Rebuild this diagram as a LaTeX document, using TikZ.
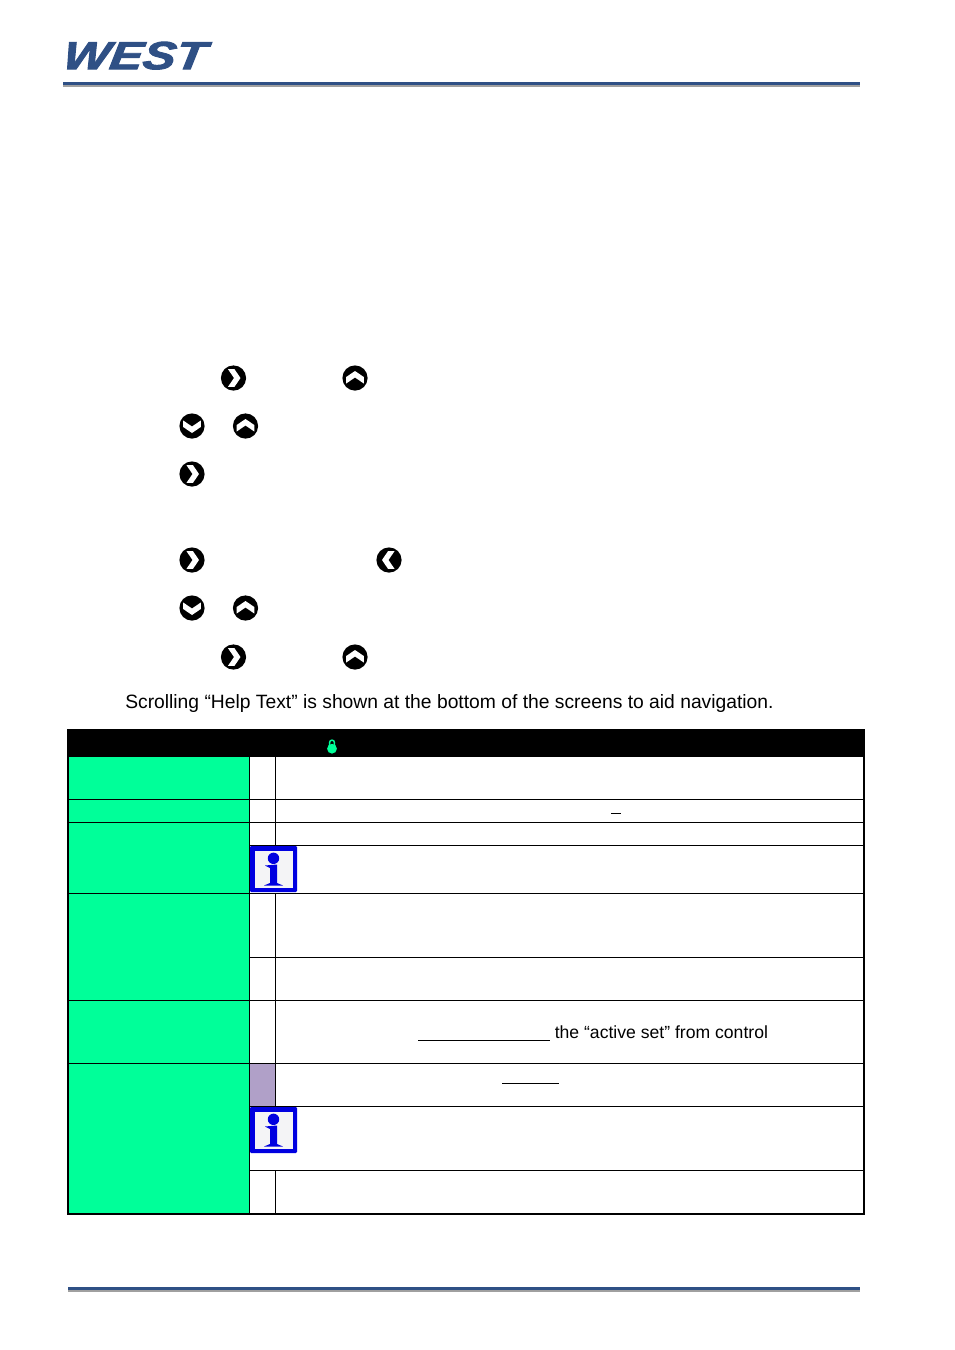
\documentclass[tikz,border=0pt]{standalone}
\usepackage{fontspec}
\setmainfont{Liberation Sans}
\newfontfamily\logofont[BoldItalicFeatures={FakeBold=2.2, FakeSlant=0.12}]{Liberation Sans}
\definecolor{westblue}{HTML}{2F5085}
\definecolor{rulegray}{HTML}{A0A0A0}
\definecolor{rowgreen}{HTML}{00FF99}
\definecolor{cellpurple}{HTML}{B0A0C8}
\definecolor{infoblue}{HTML}{0000E0}
\definecolor{infopaper}{HTML}{F4F4F6}
\tikzset{
	cellline/.style={black, line width=0.72pt},
	bodytext/.style={inner sep=0pt, anchor=base west, font=\fontsize{14.46}{17}\selectfont},
	celltext/.style={inner sep=0pt, anchor=base west, font=\fontsize{13.2}{16}\selectfont},
	infomark/.pic={
		\fill[infoblue, rounded corners=0.8pt] (0, 0) rectangle (47, 46);
		\fill[infopaper] (4.5, 5) rectangle (43, 41.5);
		\fill[infoblue] (23.5, 12.3) circle [radius=5.7];
		\fill[infoblue] (15, 19.5) -- (27, 18.5) -- (27, 37) -- (33, 39.5) -- (14, 39.5) -- (20, 37) -- (20, 22) -- cycle;
	},
}
\begin{document}
\begin{tikzpicture}[x=0.75pt, y=-0.75pt]
	\useasboundingbox (0, 0) rectangle (954, 1350);
	\node[inner sep=0pt, anchor=north west, text=westblue] (logo) at (61.5, 41.5) {\resizebox{107pt}{20.5pt}{\logofont\bfseries\itshape WEST}};
	\fill[westblue] (63, 82) rectangle (860, 85);
	\fill[rulegray] (63, 85) rectangle (860, 87);
	\foreach \x/\y/\a in {233.5/378/0, 355/378/90, 192/426/-90, 245.5/426/90, 192/474/0, 192/560/0, 389/560/180, 192/608/-90, 245.5/608/90, 233.5/657/0, 355/657/90} {
		\begin{scope}[shift={(\x, \y)}, rotate=\a]
			\fill[black] (0, 0) circle [radius=12.6];
			\fill[white] (-5.5, -8.8) -- (1, -8.8) -- (7, 0) -- (1, 8.8) -- (-5.5, 8.8) -- (0.5, 0) -- cycle;
		\end{scope}
	}
	\node[bodytext] (scrollhelp) at (125, 708) {Scrolling “Help Text” is shown at the bottom of the screens to aid navigation.};
	\fill[black] (67, 729) rectangle (865, 757);
	\fill[rowgreen] (69, 757) rectangle (249, 1214);
	\fill[cellpurple] (249, 1063) rectangle (275, 1106);
	\draw[rowgreen, line width=1.1pt] (329.6, 749) -- (329.6, 742.5) arc [start angle=180, end angle=360, radius=2.4] -- (334.4, 749);
	\fill[rowgreen] (332, 748.7) circle [radius=4.9];
	\foreach \y in {799, 822, 893, 1000, 1063} {
		\draw[cellline] (68, \y) -- (863, \y);
	}
	\foreach \y in {845, 957, 1106, 1170} {
		\draw[cellline] (249, \y) -- (863, \y);
	}
	\draw[cellline] (249.3, 757) -- (249.3, 1214);
	\foreach \a/\b in {757/845, 893/1063, 1063/1106, 1170/1214} {
		\draw[cellline] (275.3, \a) -- (275.3, \b);
	}
	\draw[black, line width=1.7pt] (68, 757) -- (68, 1214) -- (863.7, 1214) -- (863.7, 757);
	\pic at (250, 846) {infomark};
	\pic at (250, 1107) {infomark};
	\draw[cellline] (611, 813) -- (621, 813);
	\draw[cellline] (418, 1040.5) -- (550, 1040.5);
	\node[celltext] (activeset) at (554.5, 1038) {the “active set” from control};
	\draw[cellline] (502, 1083.3) -- (559, 1083.3);
	\fill[westblue] (68, 1287) rectangle (860, 1290);
	\fill[rulegray] (68, 1290) rectangle (860, 1292);
\end{tikzpicture}
\end{document}
